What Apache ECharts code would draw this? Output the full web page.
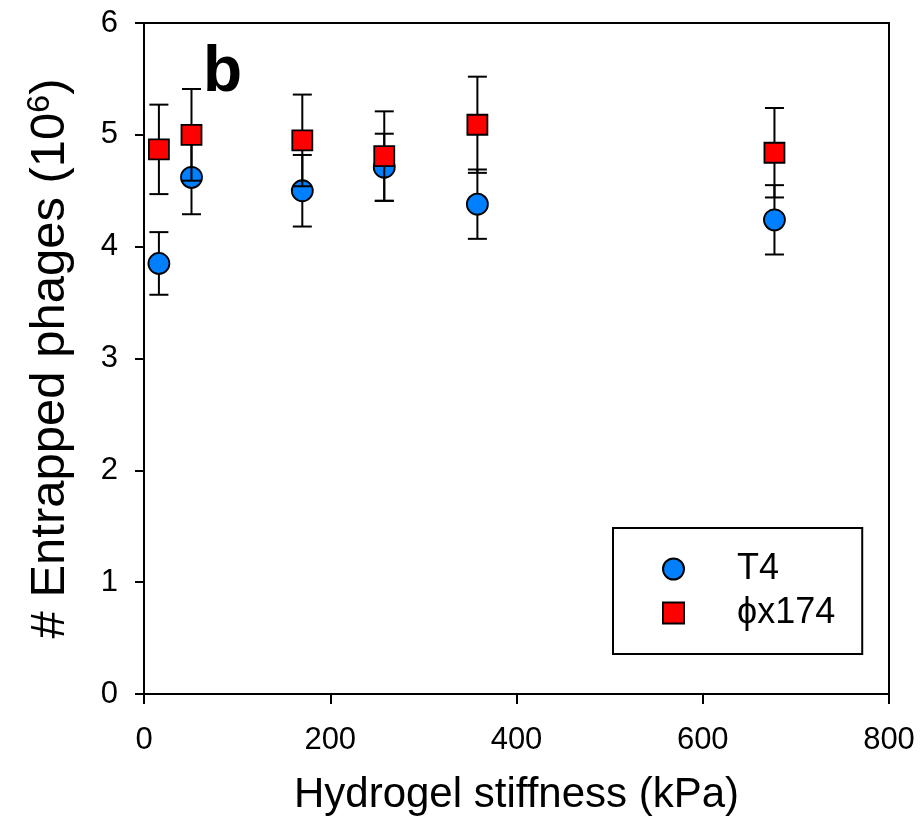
<!DOCTYPE html>
<html>
<head>
<meta charset="utf-8">
<script src="https://cdn.jsdelivr.net/npm/echarts@6/dist/echarts.min.js"></script>
<style>
html,body{margin:0;padding:0;background:#fff;}
#chart{width:923px;height:830px;}
</style>
</head>
<body>
<div id="chart"></div>
<script>
// ---- data ----
const stiffness = [16, 51, 170, 258, 358, 677];          // kPa
const t4Mean   = [3.85, 4.62, 4.50, 4.71, 4.38, 4.24];   // x10^6
const t4Err    = [0.28, 0.33, 0.32, 0.30, 0.31, 0.31];
const phiMean  = [4.87, 5.00, 4.95, 4.81, 5.09, 4.84];
const phiErr   = [0.40, 0.41, 0.41, 0.40, 0.43, 0.40];
const seriesNames = ['T4', '\u03D5x174'];
const xTicks = [0, 200, 400, 600, 800];
const yTicks = [0, 1, 2, 3, 4, 5, 6];

const FONT = '"Liberation Sans", Arial, sans-serif';

const pts = (m) => stiffness.map((x, i) => [x, m[i]]);
const errs = (m, e) => stiffness.map((x, i) => [x, m[i] - e[i], m[i] + e[i]]);

function errRender(params, api) {
  const x = api.value(0), lo = api.value(1), hi = api.value(2);
  const a = api.coord([x, lo]), b = api.coord([x, hi]);
  const hw = 9.5;
  const st = {stroke: '#000', lineWidth: 2};
  return {type: 'group', children: [
    {type: 'line', shape: {x1: a[0], y1: a[1], x2: b[0], y2: b[1]}, style: st},
    {type: 'line', shape: {x1: a[0] - hw, y1: a[1], x2: a[0] + hw, y2: a[1]}, style: st},
    {type: 'line', shape: {x1: b[0] - hw, y1: b[1], x2: b[0] + hw, y2: b[1]}, style: st}
  ]};
}

const chart = echarts.init(document.getElementById('chart'), null, {renderer: 'canvas'});
chart.setOption({
  backgroundColor: '#fff',
  animation: false,
  grid: {left: 144, right: 34, top: 23, bottom: 136, show: true, borderColor: '#000', borderWidth: 2, backgroundColor: 'transparent'},
  xAxis: {
    type: 'value', min: xTicks[0], max: xTicks[xTicks.length - 1], interval: 200,
    name: 'Hydrogel stiffness (kPa)', nameLocation: 'middle', nameGap: 80,
    nameTextStyle: {fontSize: 42, fontFamily: FONT, color: '#000'},
    axisLine: {lineStyle: {color: '#000', width: 2}},
    axisTick: {show: true, length: 10, inside: false, lineStyle: {color: '#000', width: 2}},
    axisLabel: {fontSize: 31, fontFamily: FONT, color: '#000', margin: 31},
    splitLine: {show: false}
  },
  yAxis: {
    type: 'value', min: yTicks[0], max: yTicks[yTicks.length - 1], interval: 1,
    name: '# Entrapped phages (10{sup|6})', nameLocation: 'middle', nameGap: 68,
    nameTextStyle: {fontSize: 49, fontFamily: FONT, color: '#000',
      rich: {sup: {fontSize: 32, fontFamily: FONT, color: '#000', verticalAlign: 'top', padding: [0, 0, 20, 0]}}},
    axisLine: {lineStyle: {color: '#000', width: 2}},
    axisTick: {show: true, length: 9, inside: false, lineStyle: {color: '#000', width: 2}},
    axisLabel: {fontSize: 31, fontFamily: FONT, color: '#000', margin: 26},
    splitLine: {show: false}
  },
  legend: {
    data: [{name: seriesNames[0], icon: 'circle'}, {name: seriesNames[1], icon: 'rect'}],
    orient: 'vertical', left: 613, top: 528,
    padding: [23, 27, 23, 49],
    borderColor: '#000', borderWidth: 2,
    itemWidth: 21, itemHeight: 21, itemGap: 8,
    formatter: (n) => '{g|}' + n,
    textStyle: {fontSize: 36, fontFamily: FONT, color: '#000', lineHeight: 36, rich: {g: {width: 48}}}
  },
  graphic: [{type: 'text', left: 203, top: 41, z: 100,
    style: {text: 'b', font: 'bold 64px ' + FONT, fill: '#000'}}],
  series: [
    {name: 'T4 err', type: 'custom', renderItem: errRender, data: errs(t4Mean, t4Err), encode: {x: 0, y: [1, 2]}, z: 2, silent: true},
    {name: seriesNames[0], type: 'scatter', data: pts(t4Mean), symbol: 'circle', symbolSize: 21, z: 3,
      itemStyle: {color: '#0080FF', borderColor: '#000', borderWidth: 1.8, opacity: 1}},
    {name: 'phi err', type: 'custom', renderItem: errRender, data: errs(phiMean, phiErr), encode: {x: 0, y: [1, 2]}, z: 4, silent: true},
    {name: seriesNames[1], type: 'scatter', data: pts(phiMean), symbol: 'rect', symbolSize: 20, z: 5,
      itemStyle: {color: '#FF0000', borderColor: '#000', borderWidth: 1.8, opacity: 1}}
  ]
});
</script>
</body>
</html>
